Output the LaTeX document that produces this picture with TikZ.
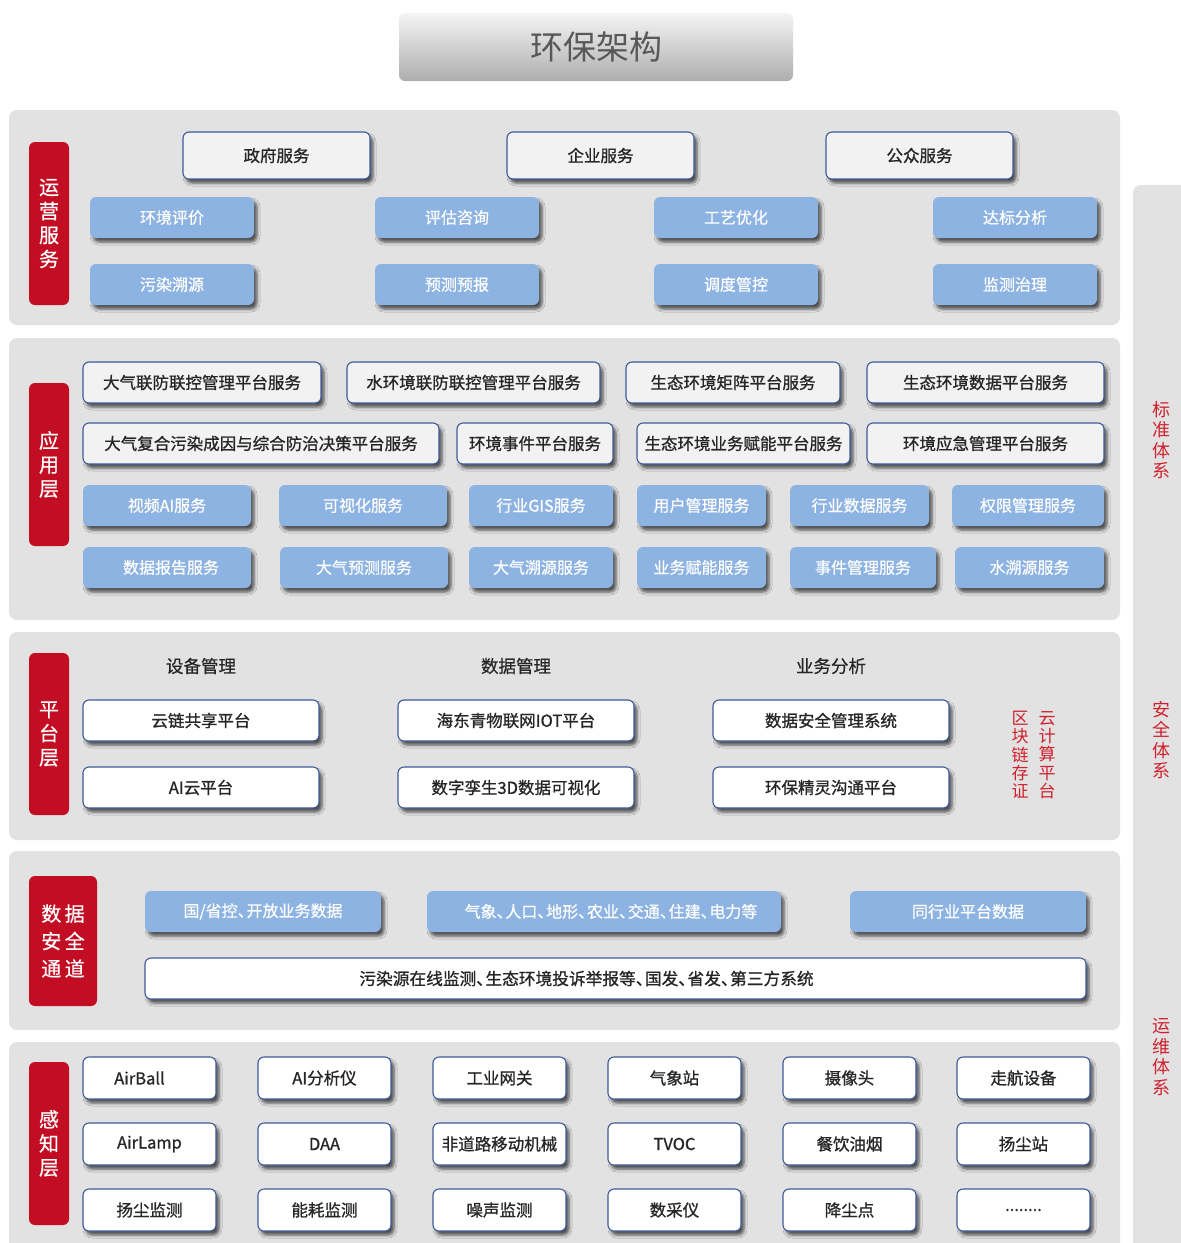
\documentclass[tikz,border=0pt]{standalone}
\usepackage{fontspec}
\setmainfont{Noto Sans CJK SC}
\newfontfamily\medf{Noto Sans CJK SC}[FakeBold=1.0]
\newfontfamily\semif{Noto Sans CJK SC}[FakeBold=0.5]
\usetikzlibrary{shadows.blur}
\definecolor{panel}{HTML}{E2E2E2}
\definecolor{lred}{HTML}{C30D23}
\definecolor{bluebox}{HTML}{8DB3E2}
\definecolor{bordblue}{HTML}{3D5A9A}
\definecolor{wbox}{HTML}{F2F2F2}
\definecolor{redtxt}{HTML}{D0202E}
\definecolor{titletxt}{HTML}{585858}
\newcommand\dn{、\kern-0.45em}
\newcommand\bx[7]{\node[#6, minimum width={(#4-#2)*1pt}, minimum height={(#5-#3)*1pt}] (#1) at ({(#2+#4)/2},{(#3+#5)/2}) {#7};}
\tikzset{
  shd/.style={blur shadow={shadow xshift=3pt,shadow yshift=-4pt,shadow blur radius=3pt,shadow opacity=65}},
  wb/.style={draw=bordblue, line width=1.1pt, fill=wbox, rounded corners=6pt, shd, font=\medf\fontsize{16.5}{20}\selectfont, text=black!85, inner sep=0pt},
  ww/.style={wb, fill=white},
  bb/.style={fill=bluebox, rounded corners=6pt, shd, font=\semif\fontsize{16}{19}\selectfont, text=white, inner sep=0pt},
  rl/.style={fill=lred, rounded corners=6pt, text=white, font=\semif\fontsize{20}{24}\selectfont, align=center, inner sep=0pt},
  pn/.style={fill=panel, rounded corners=8pt},
  rt/.style={text=redtxt, font=\fontsize{18}{20.5}\selectfont, align=center, inner sep=0pt},
  hd/.style={text=black!85, font=\semif\fontsize{17.5}{20}\selectfont, inner sep=0pt}
}
\begin{document}
\begin{tikzpicture}[x=1pt,y=-1pt]
\useasboundingbox (0,0) rectangle (1181,1243);
\fill[white] (0,0) rectangle (1181,1243);
% title
\node[top color=white!96!black, bottom color=black!32, rounded corners=6pt, minimum width=394pt, minimum height=68pt, text=titletxt, font=\fontsize{33}{38}\selectfont, inner sep=0pt] (title) at (596,47) {\raisebox{-2pt}{环保架构}};
% panels
\path[pn] (9,110) rectangle (1120,325);
\path[pn] (9,338) rectangle (1120,620);
\path[pn] (9,632) rectangle (1120,840);
\path[pn] (9,851) rectangle (1120,1030);
\path[pn] (9,1042) rectangle (1120,1270);
\path[pn] (1133,185) rectangle (1200,1270);
% right texts
\node[rt] (std) at (1161,440) {标\\准\\体\\系};
\node[rt] (sec) at (1161,740) {安\\全\\体\\系};
\node[rt] (ops) at (1161,1057) {运\\维\\体\\系};
% section 1
\bx{r1}{29}{142}{69}{305}{rl}{运\\营\\服\\务}
\bx{g1}{183}{132}{370}{179}{wb}{政府服务}
\bx{g2}{507}{132}{694}{179}{wb}{企业服务}
\bx{g3}{826}{132}{1013}{179}{wb}{公众服务}
\bx{s1}{90}{197}{254}{238}{bb}{环境评价}
\bx{s2}{375}{197}{539}{238}{bb}{评估咨询}
\bx{s3}{654}{197}{818}{238}{bb}{工艺优化}
\bx{s4}{933}{197}{1097}{238}{bb}{达标分析}
\bx{s5}{90}{264}{254}{305}{bb}{污染溯源}
\bx{s6}{375}{264}{539}{305}{bb}{预测预报}
\bx{s7}{654}{264}{818}{305}{bb}{调度管控}
\bx{s8}{933}{264}{1097}{305}{bb}{监测治理}
% section 2
\bx{r2}{29}{383}{69}{546}{rl}{应\\用\\层}
\bx{a1}{83}{362}{321}{403}{wb}{大气联防联控管理平台服务}
\bx{a2}{347}{362}{600}{403}{wb}{水环境联防联控管理平台服务}
\bx{a3}{626}{362}{840}{403}{wb}{生态环境矩阵平台服务}
\bx{a4}{867}{362}{1104}{403}{wb}{生态环境数据平台服务}
\bx{a5}{83}{423}{439}{464}{wb}{大气复合污染成因与综合防治决策平台服务}
\bx{a6}{457}{423}{613}{464}{wb}{环境事件平台服务}
\bx{a7}{637}{423}{850}{464}{wb}{生态环境业务赋能平台服务}
\bx{a8}{867}{423}{1104}{464}{wb}{环境应急管理平台服务}
\bx{b1}{83}{485}{251}{526}{bb}{视频AI服务}
\bx{b2}{279}{485}{447}{526}{bb}{可视化服务}
\bx{b3}{469}{485}{613}{526}{bb}{行业GIS服务}
\bx{b4}{637}{485}{766}{526}{bb}{用户管理服务}
\bx{b5}{790}{485}{929}{526}{bb}{行业数据服务}
\bx{b6}{952}{485}{1104}{526}{bb}{权限管理服务}
\bx{b7}{83}{547}{251}{588}{bb}{\hspace*{8pt}数据报告服务}
\bx{b8}{280}{547}{448}{588}{bb}{大气预测服务}
\bx{b9}{469}{547}{613}{588}{bb}{大气溯源服务}
\bx{b10}{637}{547}{766}{588}{bb}{业务赋能服务}
\bx{b11}{790}{547}{936}{588}{bb}{事件管理服务}
\bx{b12}{955}{547}{1104}{588}{bb}{水溯源服务}
% section 3
\bx{r3}{29}{653}{69}{815}{rl}{平\\台\\层}
\node[hd] (h1) at (201,666) {设备管理};
\node[hd] (h2) at (516,666) {数据管理};
\node[hd] (h3) at (831,666) {业务分析};
\bx{p1}{83}{700}{319}{741}{ww}{云链共享平台}
\bx{p2}{398}{700}{634}{741}{ww}{海东青物联网IOT平台}
\bx{p3}{713}{700}{949}{741}{ww}{数据安全管理系统}
\bx{p4}{83}{767}{319}{808}{ww}{AI云平台}
\bx{p5}{398}{767}{634}{808}{ww}{数字孪生3D数据可视化}
\bx{p6}{713}{767}{949}{808}{ww}{环保精灵沟通平台}
\node[rt, font=\fontsize{17}{18.3}\selectfont] (chain) at (1020,755) {区\\块\\链\\存\\证};
\node[rt, font=\fontsize{17}{18.3}\selectfont] (cloud) at (1047,755) {云\\计\\算\\平\\台};
% section 4
\bx{r4}{29}{876}{97}{1006}{rl, font=\semif\fontsize{20}{27.5}\selectfont}{数\,据\\安\,全\\通\,道}
\bx{d1}{145}{891}{381}{932}{bb}{国/省控\dn 开放业务数据}
\bx{d2}{427}{891}{781}{932}{bb}{\hspace*{14pt}气象\dn 人口\dn 地形\dn 农业\dn 交通\dn 住建\dn 电力等}
\bx{d3}{850}{891}{1086}{932}{bb}{同行业平台数据}
\bx{d4}{145}{958}{1086}{999}{ww, font=\medf\fontsize{16.7}{20}\selectfont}{污染源在线监测\dn 生态环境投诉举报等\dn 国发\dn 省发\dn 第三方系统\hspace*{58pt}}
% section 5
\bx{r5}{29}{1062}{69}{1225}{rl}{感\\知\\层}
\bx{e1}{83}{1057}{216}{1099}{ww}{AirBall\hspace*{20pt}}
\bx{e2}{258}{1057}{391}{1099}{ww}{AI分析仪}
\bx{e3}{433}{1057}{566}{1099}{ww}{工业网关}
\bx{e4}{608}{1057}{741}{1099}{ww}{气象站}
\bx{e5}{783}{1057}{916}{1099}{ww}{摄像头}
\bx{e6}{957}{1057}{1090}{1099}{ww}{走航设备}
\bx{e7}{83}{1123}{216}{1165}{ww}{AirLamp}
\bx{e8}{258}{1123}{391}{1165}{ww}{DAA}
\bx{e9}{433}{1123}{566}{1165}{ww}{非道路移动机械}
\bx{e10}{608}{1123}{741}{1165}{ww}{TVOC}
\bx{e11}{783}{1123}{916}{1165}{ww}{餐饮油烟}
\bx{e12}{957}{1123}{1090}{1165}{ww}{扬尘站}
\bx{e13}{83}{1189}{216}{1231}{ww}{扬尘监测}
\bx{e14}{258}{1189}{391}{1231}{ww}{能耗监测}
\bx{e15}{433}{1189}{566}{1231}{ww}{噪声监测}
\bx{e16}{608}{1189}{741}{1231}{ww}{数采仪}
\bx{e17}{783}{1189}{916}{1231}{ww}{降尘点}
\bx{e18}{957}{1189}{1090}{1231}{ww}{........}
\end{tikzpicture}
\end{document}
